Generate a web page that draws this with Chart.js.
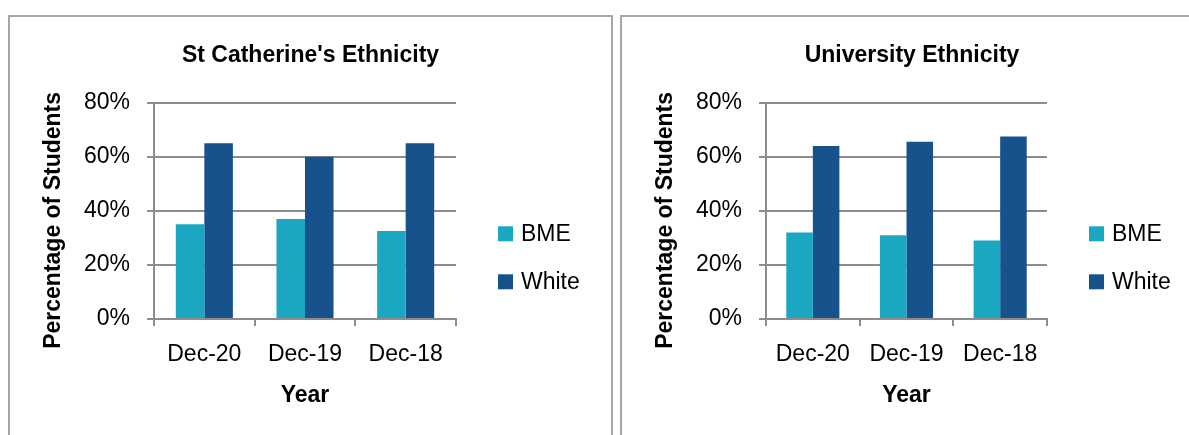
<!DOCTYPE html>
<html>
<head>
<meta charset="utf-8">
<script src="https://cdn.jsdelivr.net/npm/chart.js@4.4.0/dist/chart.umd.min.js"></script>
<style>
  html, body { margin: 0; padding: 0; background: #fff; overflow: hidden; }
  body { width: 1189px; height: 435px; position: relative; }
  .box { position: absolute; top: 15px; height: 430px; border: 2px solid #a6a6a6; border-bottom: none; }
  #boxLeft { left: 8px; width: 601px; }
  #boxRight { left: 620px; width: 600px; }
  canvas { position: absolute; top: 0; }
  #catChart { left: 9px; }
  #uniChart { left: 621px; }
</style>
</head>
<body>
<div class="box" id="boxLeft"></div>
<div class="box" id="boxRight"></div>
<canvas id="catChart" width="603" height="435"></canvas>
<canvas id="uniChart" width="582" height="435"></canvas>
<script>
// values, in percent
const years = ['Dec-20', 'Dec-19', 'Dec-18'];
const catBme = [35, 37, 32.5];
const catWhite = [65, 60, 65];
const uniBme = [32, 31, 29];
const uniWhite = [64, 65.5, 67.5];
const yTicks = [0, 20, 40, 60, 80];

const FONT = "'Liberation Sans', Arial, sans-serif";
const BME_COLOR = '#1ba7c1';
const WHITE_COLOR = '#18528c';
const GRID = '#8c8c8c';

Chart.defaults.font.family = FONT;
Chart.defaults.font.size = 23;
Chart.defaults.color = '#000';

// legend drawn as its own layout box on the right side
const sideLegend = {
  id: 'sideLegend',
  beforeInit(chart) {
    const box = {
      position: 'right',
      weight: 0,
      fullSize: false,
      options: {},
      isHorizontal() { return false; },
      update(maxWidth, maxHeight) {
        this.width = 156;
        this.height = maxHeight;
      },
      draw() {
        const ctx = chart.ctx;
        const sets = chart.data.datasets;
        const mid = (this.top + this.bottom) / 2 + 47;
        ctx.save();
        ctx.font = '23px ' + FONT;
        ctx.textBaseline = 'middle';
        ctx.textAlign = 'left';
        sets.forEach((ds, i) => {
          const y = mid + (i - (sets.length - 1) / 2) * 48;
          ctx.fillStyle = ds.backgroundColor;
          ctx.fillRect(this.left + 42, y - 7.5, 15, 15);
          ctx.fillStyle = '#000';
          ctx.fillText(ds.label, this.left + 65, y + 1);
        });
        ctx.restore();
      }
    };
    Chart.layouts.addBox(chart, box);
  }
};

function makeChart(id, title, bme, white) {
  const ctx = document.getElementById(id).getContext('2d');
  return new Chart(ctx, {
    type: 'bar',
    data: {
      labels: years,
      datasets: [
        { label: 'BME', data: bme, backgroundColor: BME_COLOR },
        { label: 'White', data: white, backgroundColor: WHITE_COLOR }
      ]
    },
    options: {
      responsive: false,
      animation: false,
      layout: { padding: 0 },
      datasets: {
        bar: { categoryPercentage: 0.567, barPercentage: 1.0 }
      },
      plugins: {
        legend: { display: false },
        tooltip: { enabled: false },
        title: {
          display: true,
          text: title,
          color: '#000',
          font: { size: 23, weight: 'bold' },
          padding: { top: 42, bottom: 33 }
        }
      },
      scales: {
        x: {
          afterFit(s) { s.height = 116; },
          grid: { display: true, drawOnChartArea: false, drawTicks: true, tickLength: 7, color: GRID, lineWidth: 2 },
          border: { display: true, color: GRID, width: 2 },
          ticks: { padding: 15, font: { size: 23 } },
          title: {
            display: true,
            text: 'Year',
            font: { size: 23, weight: 'bold' },
            padding: { top: 0, bottom: 26 }
          }
        },
        y: {
          min: 0,
          max: 80,
          afterFit(s) { s.width = 145; },
          afterBuildTicks(s) { s.ticks = yTicks.map(v => ({ value: v })); },
          grid: { color: GRID, lineWidth: 2, tickLength: 7 },
          border: { display: true, color: GRID, width: 2 },
          ticks: { padding: 17, font: { size: 23 }, callback: v => v + '%' },
          title: {
            display: true,
            // trailing spaces push the rotated text a little lower, as in the original
            text: 'Percentage of Students   ',
            font: { size: 23, weight: 'bold' },
            padding: { top: 31, bottom: 0 }
          }
        }
      }
    },
    plugins: [sideLegend]
  });
}

makeChart('catChart', "St Catherine's Ethnicity", catBme, catWhite);
makeChart('uniChart', 'University Ethnicity', uniBme, uniWhite);
</script>
</body>
</html>
